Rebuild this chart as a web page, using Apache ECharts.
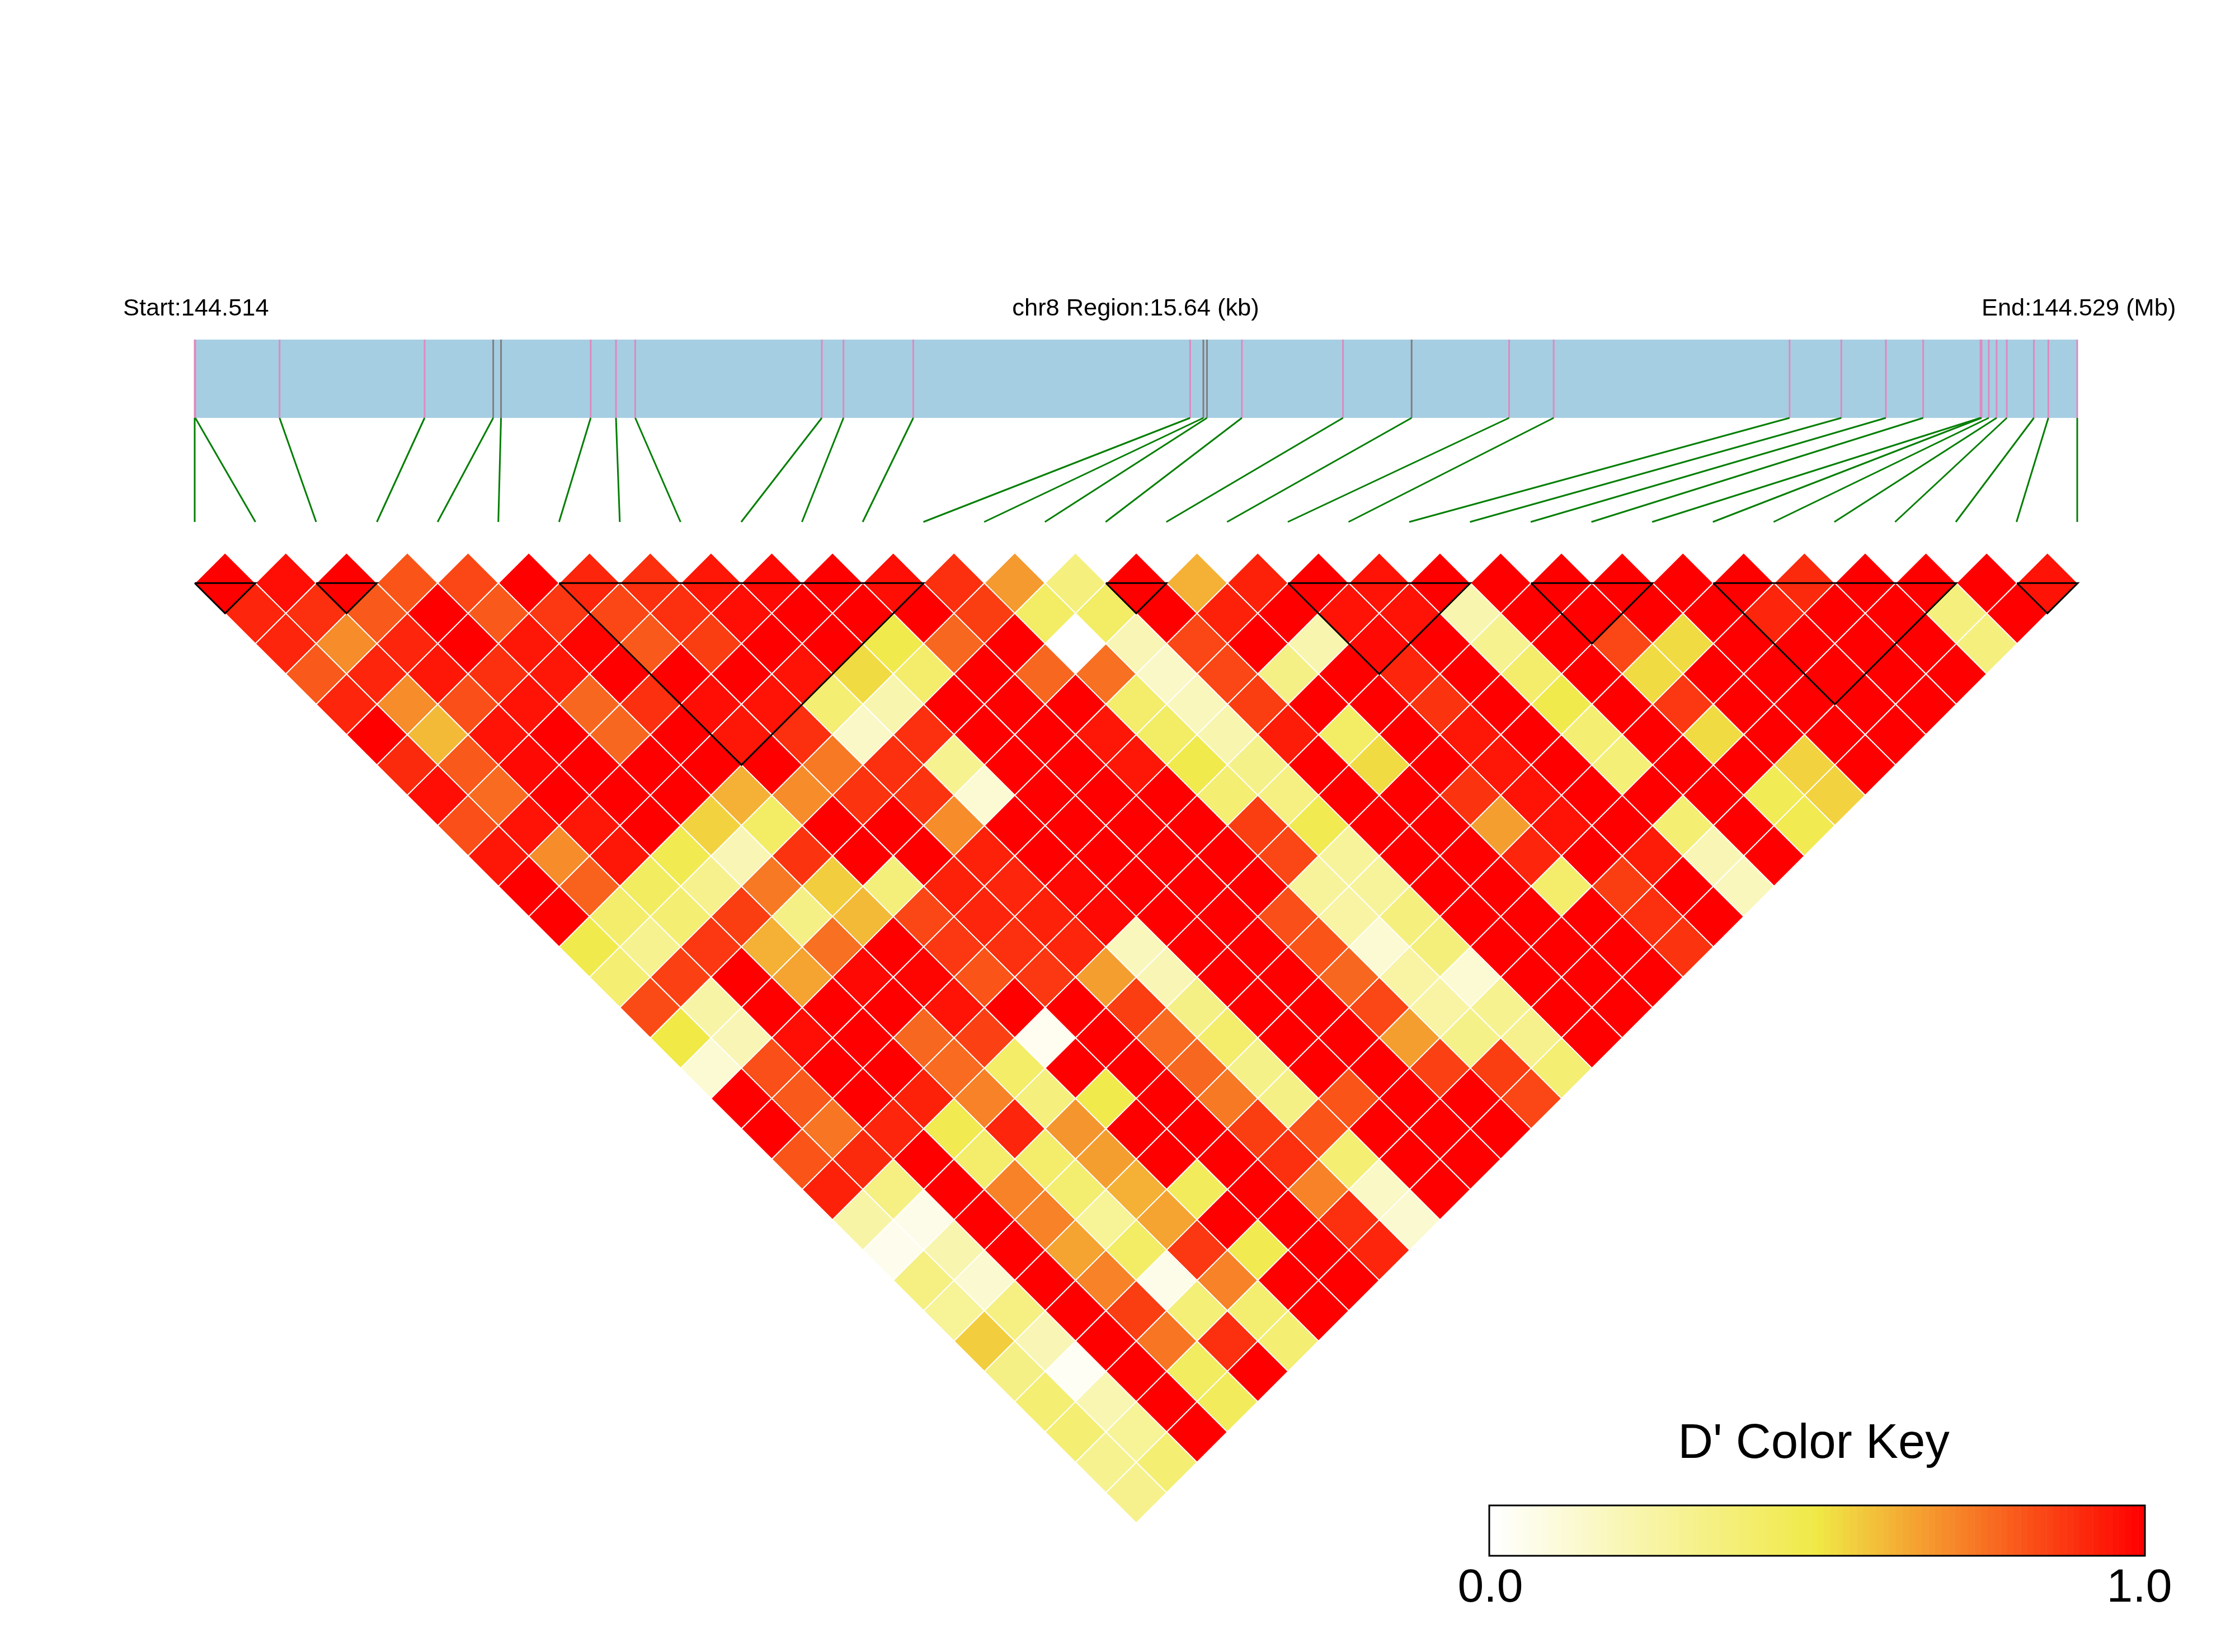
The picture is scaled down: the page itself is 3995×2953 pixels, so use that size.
<!DOCTYPE html>
<html><head><meta charset="utf-8">
<style>html,body{margin:0;padding:0;background:#fff}#c{width:3995px;height:2953px}</style>
<script src="https://cdn.jsdelivr.net/npm/echarts@6/dist/echarts.min.js"></script>
</head><body><div id="c"></div>
<script>
// SNP positions in kb from the region start
const snpKb=[0,.005,.705,1.91,2.48,2.545,3.29,3.50,3.66,5.21,5.39,5.97,8.27,8.38,8.41,8.70,9.54,10.11,10.92,11.29,13.25,13.68,14.05,14.36,14.836,14.845,14.905,14.97,15.055,15.28,15.40,15.64];
const greySnps=[4,5,13,14,17];
const regionKb=15.64;
// haplotype blocks: first and last SNP index
const blockStart=[0,2,6,15,18,22,25,30];
const blockEnd=[1,3,12,16,21,24,29,31];
// D' values, one list per SNP-distance
const row01=[1,.97,1,.82,.85,1,.92,.90,.95,.98,1,.97,.90,.67,.35,1,.62,.93,1,.96,1,1,1,1,1,1,.91,1,1,1,.96];
const row02=[.92,.90,.81,1,.81,.88,.85,.90,.97,1,1,1,.87,.42,.42,1,.93,1,.96,.96,.22,1,1,1,1,.92,1,1,.35,1];
const row03=[.92,.70,.92,1,.95,.99,.81,.87,1,1,.48,.78,1,0,.2,.85,1,.22,.98,1,.30,1,.85,.53,1,1,1,1,.35];
const row04=[.81,.92,.95,.90,.95,1,1,1,.96,.53,.40,1,.78,.76,.15,.85,.33,1,.92,1,.40,1,.53,1,1,1,1,1];
const row05=[.92,.70,.83,.96,.78,.90,.97,.96,.38,.22,1,1,1,.40,.18,.87,1,1,.89,1,.48,1,.88,1,1,1,1];
const row06=[1,.60,.96,1,.78,1,.95,.90,.15,.90,1,1,.95,.42,.22,.94,.42,1,.95,1,.38,1,.53,1,1,1];
const row07=[.91,.81,.98,1,1,1,1,.74,.90,.30,1,1,.95,.48,.32,1,.53,1,.95,1,.37,1,1,.55,1];
const row08=[.97,.77,1,1,1,.62,.70,.89,.89,.12,1,1,1,.38,.34,1,1,.89,.96,1,1,1,.46,.55];
const row09=[.83,.96,.95,1,.55,.42,1,1,.70,1,1,1,1,.87,.47,1,1,.66,.96,1,.38,1,.47];
const row10=[.95,.70,.95,.47,.20,.89,1,1,.93,1,1,1,1,.85,.27,1,1,.92,1,.94,.20,1];
const row11=[1,.79,.43,.31,.74,.56,.36,.93,.92,.98,1,1,1,.27,.27,1,1,.40,.87,1,.18];
const row12=[1,.40,.38,.87,.33,.60,.85,.92,.93,.98,1,1,.83,.25,.35,1,1,1,.90,1];
const row13=[.48,.30,.88,.62,.76,1,.88,.90,.92,.18,1,1,.82,.12,.36,1,1,1,.89];
const row14=[.38,.86,1,.65,.98,.99,.82,.88,.66,.20,1,1,.78,.25,.12,1,1,1];
const row15=[.84,.24,1,1,1,.96,1,1,.87,.33,1,1,.85,.25,.30,1,1];
const row16=[.50,.20,.97,1,.78,.86,.04,1,.77,.40,1,1,.66,.32,.31,1];
const row17=[.12,.83,1,1,.77,.41,1,1,.78,.32,1,1,.86,.87,.38];
const row18=[1,.81,1,.93,.72,.35,.48,1,.74,.33,.82,1,1,.85];
const row19=[1,.75,.92,.47,.92,.68,1,1,.87,.82,1,1,1];
const row20=[.82,.91,1,.40,.40,.66,1,1,.90,.38,1,1];
const row21=[.93,.34,1,.72,.39,.62,.44,1,.72,.16,1];
const row22=[.24,.06,1,.72,.28,.65,1,1,.90,.13];
const row23=[.05,.22,1,.65,.42,.88,.47,1,.92];
const row24=[.34,.13,1,.72,.06,.72,1,1];
const row25=[.28,.34,1,.87,.37,.39,1];
const row26=[.56,.20,1,.75,.90,.38];
const row27=[.33,.03,1,.43,1];
const row28=[.38,.21,1,.44];
const row29=[.38,.28,1];
const row30=[.30,.38];
const row31=[.31];
const rows=[row01,row02,row03,row04,row05,row06,row07,row08,row09,row10,row11,row12,row13,row14,row15,row16,row17,row18,row19,row20,row21,row22,row23,row24,row25,row26,row27,row28,row29,row30,row31];
const keyTicks=[0,1];
const ramp=['#FFFFFF','#F0E946','#FF0000'];

const FONT='"Liberation Sans",Arial,sans-serif';
const cells=[];
rows.forEach((r,di)=>r.forEach((v,i)=>cells.push([i,i+di+1,v])));
const keySteps=[];
for(let s=0;s<100;s++)keySteps.push([s/100,(s+1)/100,s/99]);

const ch=echarts.init(document.getElementById('c'),null,{width:3995,height:2953});
const hidden=(gi,min,max,inverse)=>({gridIndex:gi,type:'value',min,max,inverse:!!inverse,show:false});
ch.setOption({
  animation:false,backgroundColor:'#fff',
  grid:[
    {left:348,top:988,width:3366,height:1734.4},
    {left:348,top:607,width:3365,height:140},
    {left:348,top:747,width:3365,height:186},
    {left:2662,top:2691,width:1172,height:90,show:true,borderColor:'#000',borderWidth:3,backgroundColor:'transparent',z:5},
    {left:2664,top:2691,width:1160,height:90}
  ],
  xAxis:[hidden(0,0,31),hidden(1,0,regionKb),hidden(2,0,regionKb),hidden(3,0,1),
    {gridIndex:4,type:'value',min:0,max:1,interval:1,splitLine:{show:false},axisLine:{show:false},axisTick:{show:false},
     axisLabel:{show:true,showMinLabel:true,showMaxLabel:true,fontFamily:FONT,fontSize:84,color:'#000',margin:17,formatter:v=>keyTicks.includes(v)?v.toFixed(1):''}}],
  yAxis:[hidden(0,0,32,true),hidden(1,0,1),hidden(2,0,1),hidden(3,0,1),hidden(4,0,1)],
  visualMap:[{show:false,type:'continuous',min:0,max:1,dimension:2,seriesIndex:[0,5],inRange:{color:ramp}}],
  series:[
    {type:'custom',xAxisIndex:0,yAxisIndex:0,coordinateSystem:'cartesian2d',z:2,encode:{x:0,y:1},data:cells,
     renderItem(p,api){
       const a=api.value(0),b=api.value(1),x=(a+b)/2,d=b-a;
       const pts=[[x,d-1],[x+.5,d],[x,d+1],[x-.5,d]].map(q=>api.coord(q));
       return {type:'polygon',shape:{points:pts},style:{fill:api.visual('color'),stroke:'#fff',lineWidth:2}};
     }},
    {type:'custom',xAxisIndex:0,yAxisIndex:0,z:3,silent:true,encode:{x:0,y:1},data:blockStart.map((s,n)=>[s,blockEnd[n]]),
     renderItem(p,api){
       const a=api.value(0),b=api.value(1);
       const pts=[[a,1],[b,1],[(a+b)/2,1+(b-a)],[a,1]].map(q=>api.coord(q));
       return {type:'polyline',shape:{points:pts},style:{fill:null,stroke:'#000',lineWidth:3}};
     }},
    {type:'custom',xAxisIndex:1,yAxisIndex:1,z:2,silent:true,encode:{x:0},data:[[0,regionKb]],
     renderItem(p,api){
       const t=api.coord([api.value(0),1]),e=api.coord([api.value(1),0]);
       return {type:'rect',shape:{x:t[0],y:t[1],width:e[0]-t[0],height:e[1]-t[1]},style:{fill:'#A6CEE3'}};
     }},
    {type:'custom',xAxisIndex:1,yAxisIndex:1,z:3,silent:true,encode:{x:0},data:snpKb.map((k,i)=>[k,i]),
     renderItem(p,api){
       const t=api.coord([api.value(0),1]),e=api.coord([api.value(0),0]);
       return {type:'line',shape:{x1:t[0],y1:t[1],x2:e[0],y2:e[1]},
         style:{stroke:greySnps.includes(api.value(1))?'#7F7F7F':'#DF8ABF',lineWidth:3}};
     }},
    {type:'custom',xAxisIndex:2,yAxisIndex:2,z:3,silent:true,encode:{x:0},data:snpKb.map((k,i)=>[k,i*regionKb/31]),
     renderItem(p,api){
       const t=api.coord([api.value(0),1]),e=api.coord([api.value(1),0]);
       return {type:'line',shape:{x1:t[0],y1:t[1],x2:e[0],y2:e[1]},style:{stroke:'#047F04',lineWidth:3}};
     }},
    {type:'custom',xAxisIndex:3,yAxisIndex:3,z:2,silent:true,encode:{x:0},data:keySteps,
     renderItem(p,api){
       const t=api.coord([api.value(0),1]),e=api.coord([api.value(1),0]);
       return {type:'rect',shape:{x:t[0],y:t[1],width:e[0]-t[0]+.5,height:e[1]-t[1]},style:{fill:api.visual('color')}};
     }}
  ],
  graphic:[
    {type:'text',x:220,y:552,style:{text:'Start:144.514',font:'43.4px '+FONT,fill:'#000',align:'left',verticalAlign:'middle'}},
    {type:'text',x:2030,y:552,style:{text:'chr8 Region:15.64 (kb)',font:'43.4px '+FONT,fill:'#000',align:'center',verticalAlign:'middle'}},
    {type:'text',x:3542,y:552,style:{text:'End:144.529 (Mb)',font:'43.4px '+FONT,fill:'#000',align:'left',verticalAlign:'middle'}},
    {type:'text',x:3242,y:2582,style:{text:"D' Color Key",font:'87px '+FONT,fill:'#000',align:'center',verticalAlign:'middle'}}
  ]
});
</script></body></html>
